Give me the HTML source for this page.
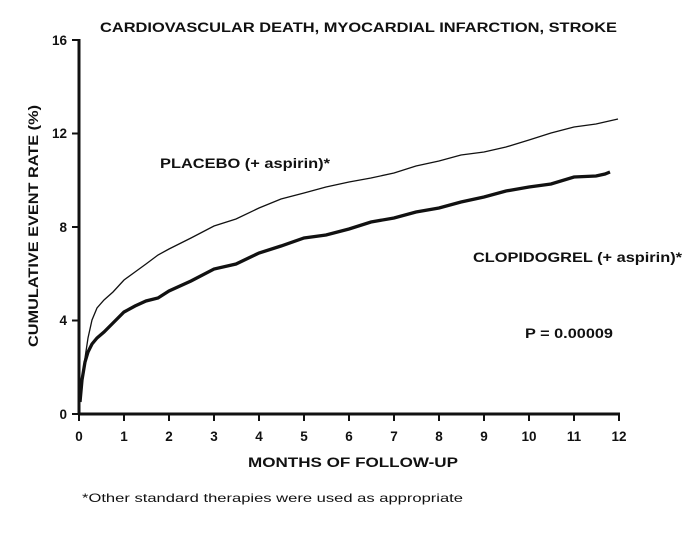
<!DOCTYPE html>
<html><head><meta charset="utf-8"><style>
body{margin:0;background:#fff;}
svg{display:block;font-family:"Liberation Sans",Arial,sans-serif;font-weight:bold;fill:#111;}
</style></head><body>
<svg width="697" height="543" viewBox="0 0 697 543" xmlns="http://www.w3.org/2000/svg">
<text x="100" y="32" font-size="13.5" textLength="517" lengthAdjust="spacingAndGlyphs">CARDIOVASCULAR DEATH, MYOCARDIAL INFARCTION, STROKE</text>
<g stroke="#111" stroke-width="3" fill="none">
<line x1="79" y1="39" x2="79" y2="415"/>
<line x1="78" y1="414" x2="620" y2="414"/>
</g>
<g stroke="#111" stroke-width="2">
<line x1="72" y1="40" x2="79" y2="40"/><line x1="72" y1="133.5" x2="79" y2="133.5"/>
<line x1="72" y1="227" x2="79" y2="227"/><line x1="72" y1="320.5" x2="79" y2="320.5"/>
<line x1="72" y1="414" x2="79" y2="414"/>
<line x1="79" y1="414" x2="79" y2="421"/><line x1="124" y1="414" x2="124" y2="421"/><line x1="169" y1="414" x2="169" y2="421"/><line x1="214" y1="414" x2="214" y2="421"/><line x1="259" y1="414" x2="259" y2="421"/><line x1="304" y1="414" x2="304" y2="421"/><line x1="349" y1="414" x2="349" y2="421"/><line x1="394" y1="414" x2="394" y2="421"/><line x1="439" y1="414" x2="439" y2="421"/><line x1="484" y1="414" x2="484" y2="421"/><line x1="529" y1="414" x2="529" y2="421"/><line x1="574" y1="414" x2="574" y2="421"/><line x1="619" y1="414" x2="619" y2="421"/>
</g>
<g font-size="13.5" text-anchor="end">
<text x="67" y="45">16</text><text x="67" y="138">12</text><text x="67" y="232">8</text><text x="67" y="325">4</text><text x="67" y="419">0</text>
</g>
<g font-size="13.5" text-anchor="middle">
<text x="79" y="441">0</text><text x="124" y="441">1</text><text x="169" y="441">2</text><text x="214" y="441">3</text><text x="259" y="441">4</text><text x="304" y="441">5</text><text x="349" y="441">6</text><text x="394" y="441">7</text><text x="439" y="441">8</text><text x="484" y="441">9</text><text x="529" y="441">10</text><text x="574" y="441">11</text><text x="619" y="441">12</text>
</g>
<text x="248" y="467" font-size="13.5" textLength="210" lengthAdjust="spacingAndGlyphs">MONTHS OF FOLLOW-UP</text>
<text transform="translate(38,347) rotate(-90)" font-size="13.5" textLength="242" lengthAdjust="spacingAndGlyphs">CUMULATIVE EVENT RATE (%)</text>
<text x="160" y="168" font-size="13.5" textLength="170" lengthAdjust="spacingAndGlyphs">PLACEBO (+ aspirin)*</text>
<text x="473" y="262" font-size="13.5" textLength="209" lengthAdjust="spacingAndGlyphs">CLOPIDOGREL (+ aspirin)*</text>
<text x="525" y="338" font-size="13.5" textLength="88" lengthAdjust="spacingAndGlyphs">P = 0.00009</text>
<text x="82" y="502" font-size="12" font-weight="normal" textLength="381" lengthAdjust="spacingAndGlyphs">*Other standard therapies were used as appropriate</text>
<polyline fill="none" stroke="#111" stroke-width="1.3" points="80,402 82,380 85,358 88,338 92,320 97,308 104,300 113,292 124,280 135,272 146,264 158,255 169,249 191,238 214,226 236,219 259,208 281,199 304,193 326,187 349,182 371,178 394,173 416,166 439,161 461,155 484,152 506,147 529,140 551,133 574,127 596,124 618,119"/>
<polyline fill="none" stroke="#111" stroke-width="3.3" points="80,402 82,380 85,362 88,352 92,344 97,338 104,332 113,323 124,312 135,306 146,301 158,298 169,291 191,281 214,269 236,264 259,253 281,246 304,238 326,235 349,229 371,222 394,218 416,212 439,208 461,202 484,197 506,191 529,187 551,184 574,177 596,176 605,174 610,172"/>
</svg>
</body></html>
